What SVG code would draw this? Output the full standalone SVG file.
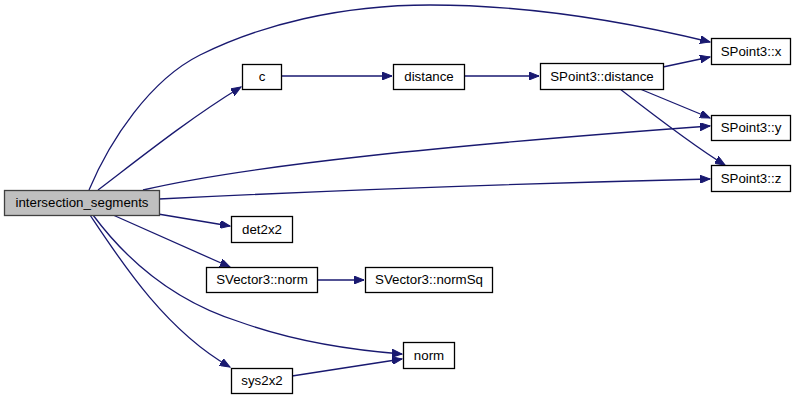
<svg xmlns="http://www.w3.org/2000/svg" width="796" height="400" viewBox="0 0 796 400">
<style>
.n rect{fill:#ffffff;stroke:#000000;stroke-width:1.3}
.n.root rect{fill:#bfbfbf;stroke:#404040}
.n text{font-family:"Liberation Sans",Arial,sans-serif;font-size:13.3px;text-anchor:middle;fill:#000000}
.e path{fill:none;stroke:#191970;stroke-width:1.3}
</style>
<defs>
<marker id="ah" markerWidth="11" markerHeight="8" refX="10" refY="4" orient="auto" markerUnits="userSpaceOnUse">
<polygon points="0,0 10,4 0,8" fill="#191970" stroke="#191970" stroke-width="1"/>
</marker>
</defs>
<rect width="796" height="400" fill="#ffffff"/>
<g id="edges" class="e">
<path d="M89,190 C110,140 150,80 200,55 C260,25 340,5 430,5 C540,5 640,25 710,42" marker-end="url(#ah)"/>
<path d="M98,190 C140,158 190,118 241,87" marker-end="url(#ah)"/>
<path d="M281,76 L392,76" marker-end="url(#ah)"/>
<path d="M464,76 L539,76" marker-end="url(#ah)"/>
<path d="M663,67 L710,57" marker-end="url(#ah)"/>
<path d="M640,89 L710,118" marker-end="url(#ah)"/>
<path d="M620,89 C660,120 700,150 725,165" marker-end="url(#ah)"/>
<path d="M143,190 C250,165 450,145 710,126" marker-end="url(#ah)"/>
<path d="M159,199 C300,192 500,184 710,179" marker-end="url(#ah)"/>
<path d="M158,214 L230,226" marker-end="url(#ah)"/>
<path d="M113,215 L230,267" marker-end="url(#ah)"/>
<path d="M317,280 L364,280" marker-end="url(#ah)"/>
<path d="M93,215 C125,258 170,300 240,322 C290,340 350,350 402,354" marker-end="url(#ah)"/>
<path d="M90,215 C120,260 165,330 230,367" marker-end="url(#ah)"/>
<path d="M292,376 L402,359" marker-end="url(#ah)"/>
</g>
<g id="intersection_segments" class="n root"><rect x="4.5" y="190.5" width="155" height="25"/><text x="82" y="207">intersection_segments</text></g>
<g id="c" class="n"><rect x="242.5" y="64.5" width="39" height="25"/><text x="262" y="81">c</text></g>
<g id="distance" class="n"><rect x="393.5" y="64.5" width="71" height="25"/><text x="429" y="81">distance</text></g>
<g id="SPoint3_distance" class="n"><rect x="540.5" y="63.5" width="123" height="26"/><text x="602" y="81">SPoint3::distance</text></g>
<g id="SPoint3_x" class="n"><rect x="711.5" y="38.5" width="79" height="26"/><text x="751" y="56">SPoint3::x</text></g>
<g id="SPoint3_y" class="n"><rect x="711.5" y="115.5" width="79" height="25"/><text x="751" y="132">SPoint3::y</text></g>
<g id="SPoint3_z" class="n"><rect x="711.5" y="165.5" width="79" height="26"/><text x="751" y="183">SPoint3::z</text></g>
<g id="det2x2" class="n"><rect x="231.5" y="216.5" width="61" height="26"/><text x="262" y="234">det2x2</text></g>
<g id="SVector3_norm" class="n"><rect x="206.5" y="267.5" width="111" height="25"/><text x="262" y="284">SVector3::norm</text></g>
<g id="SVector3_normSq" class="n"><rect x="365.5" y="267.5" width="127" height="25"/><text x="429" y="284">SVector3::normSq</text></g>
<g id="norm" class="n"><rect x="403.5" y="342.5" width="51" height="26"/><text x="429" y="360">norm</text></g>
<g id="sys2x2" class="n"><rect x="231.5" y="368.5" width="61" height="25"/><text x="262" y="385">sys2x2</text></g>
</svg>
